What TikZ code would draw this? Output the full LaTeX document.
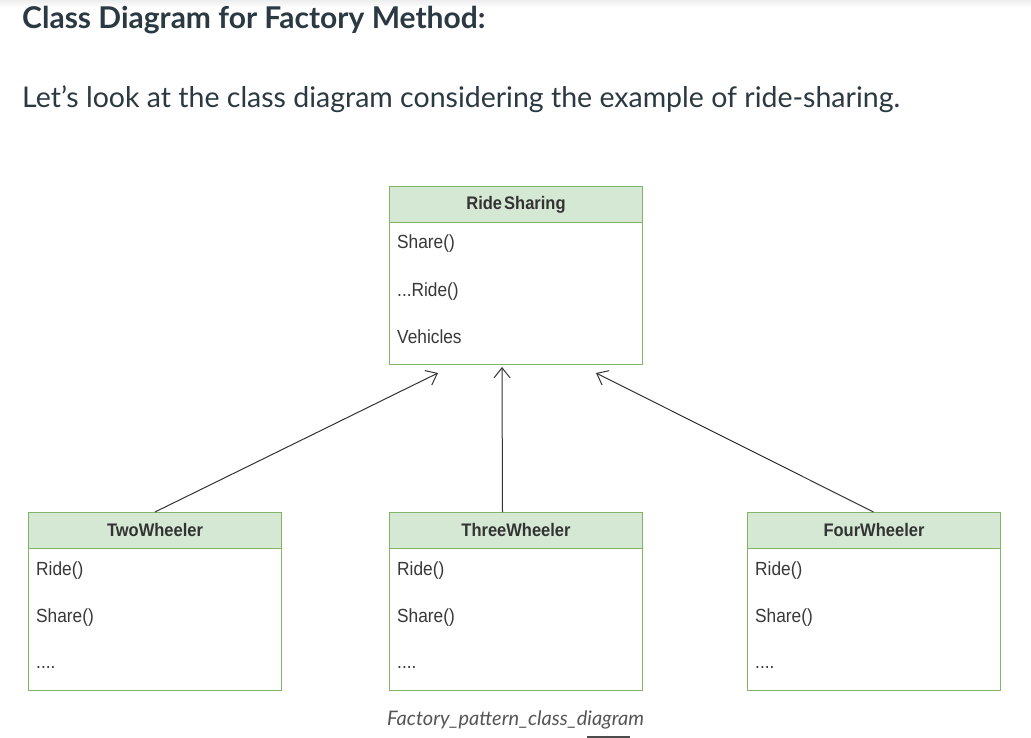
\documentclass[tikz,border=0pt]{standalone}
\usepackage{fontspec}
\usepackage{graphicx}
\setmainfont{Lato}
\newfontfamily\arialf{Liberation Sans}
\usetikzlibrary{arrows.meta}
\definecolor{hdrfill}{HTML}{D5E8D4}
\definecolor{hdrline}{HTML}{82B366}
\definecolor{txtdark}{HTML}{2B3A42}
\definecolor{capgrey}{HTML}{555555}
\newcommand\mtext[1]{\scalebox{1}[1.1]{#1}}
\tikzset{
  classbox/.style={draw=hdrline, line width=1pt, fill=white, minimum width=253pt, minimum height=178pt, inner sep=0pt},
  hdrbox/.style={draw=hdrline, line width=1pt, fill=hdrfill, minimum width=253pt, minimum height=36pt, inner sep=0pt, font=\arialf\bfseries\fontsize{16.5}{19}\selectfont, text=black!80},
  member/.style={anchor=base west, inner sep=0pt, font=\arialf\fontsize{17.3}{20}\selectfont, text=black!78},
  inherit/.style={draw=black!80, line width=1pt, -{Straight Barb[length=10pt,width=16pt,line width=1pt]}},
}
\begin{document}
\begin{tikzpicture}[x=1pt,y=-1pt]
\useasboundingbox (0,0) rectangle (1031,738);
\fill[white] (0,0) rectangle (1031,738);
\shade[top color=black!7, bottom color=white] (0,0) rectangle (1031,7);
\node[anchor=base west, inner sep=0pt, text=txtdark, font=\bfseries\fontsize{30}{34}\selectfont] (title) at (22,29) {Class Diagram for Factory Method:};
\node[anchor=base west, inner sep=0pt, text=txtdark, font=\fontsize{28.5}{32}\selectfont] (intro) at (22,108) {Let’s look at the class diagram considering the example of ride-sharing.};

% RideSharing
\node[classbox, anchor=north west] (rs) at (389,186) {};
\node[hdrbox, anchor=north west] (rsh) at (389,186) {\mtext{Ride\kern2pt Sharing}};
\node[member] (rs1) at (397,249) {\mtext{Share()}};
\node[member] (rs2) at (397,296) {\mtext{...Ride()}};
\node[member] (rs3) at (397,343) {\mtext{Vehicles}};

% TwoWheeler
\node[classbox, anchor=north west] (tw) at (28,512) {};
\node[hdrbox, anchor=north west] (twh) at (28,512) {\mtext{TwoWheeler}};
\node[member] (tw1) at (36,575) {\mtext{Ride()}};
\node[member] (tw2) at (36,622) {\mtext{Share()}};
\node[member] (tw3) at (36,668) {\mtext{....}};

% ThreeWheeler
\node[classbox, anchor=north west] (th) at (389,512) {};
\node[hdrbox, anchor=north west] (thh) at (389,512) {\mtext{ThreeWheeler}};
\node[member] (th1) at (397,575) {\mtext{Ride()}};
\node[member] (th2) at (397,622) {\mtext{Share()}};
\node[member] (th3) at (397,668) {\mtext{....}};

% FourWheeler
\node[classbox, anchor=north west] (fw) at (747,512) {};
\node[hdrbox, anchor=north west] (fwh) at (747,512) {\mtext{FourWheeler}};
\node[member] (fw1) at (755,575) {\mtext{Ride()}};
\node[member] (fw2) at (755,622) {\mtext{Share()}};
\node[member] (fw3) at (755,668) {\mtext{....}};

\coordinate (t1) at (438,373);
\coordinate (t2) at (502,367);
\coordinate (t3) at (596,373);
\draw[inherit] (twh.north) -- (t1);
\draw[inherit] ([xshift=-13.5pt]thh.north) -- (t2);
\draw[inherit] ([xshift=-0.5pt]fwh.north) -- (t3);

\node[anchor=base west, inner sep=0pt, text=capgrey, font=\itshape\fontsize{20}{24}\selectfont] (cap) at (387,725) {Factory\_pattern\_class\_diagram};
\draw[black!70, line width=1.5pt] (587,737) -- (630,737);
\end{tikzpicture}
\end{document}
